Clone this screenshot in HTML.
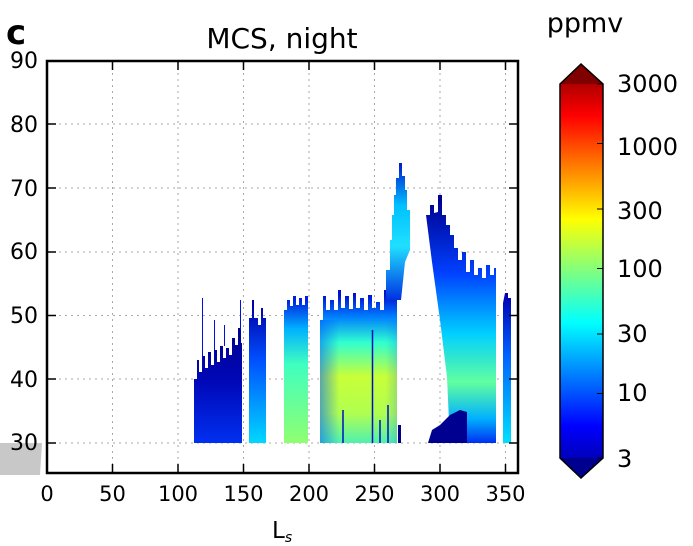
<!DOCTYPE html>
<html><head><meta charset="utf-8"><style>
body{margin:0;background:#fff;width:693px;height:546px;overflow:hidden;position:relative}
svg{position:absolute;left:0;top:0}
</style></head><body>
<svg width="693" height="546" xmlns="http://www.w3.org/2000/svg" font-family="DejaVu Sans, Liberation Sans, sans-serif">
<defs>
<linearGradient id="jet" x1="0" y1="1" x2="0" y2="0">
<stop offset="0" stop-color="#00008f"/>
<stop offset="0.125" stop-color="#0000ff"/>
<stop offset="0.375" stop-color="#00ffff"/>
<stop offset="0.625" stop-color="#ffff00"/>
<stop offset="0.875" stop-color="#ff0000"/>
<stop offset="1" stop-color="#800000"/>
</linearGradient>
<linearGradient id="g1" gradientUnits="userSpaceOnUse" x1="0" y1="320" x2="0" y2="443">
<stop offset="0" stop-color="#000088"/><stop offset="0.5" stop-color="#0008b8"/><stop offset="1" stop-color="#0030f0"/>
</linearGradient>
<linearGradient id="g2" gradientUnits="userSpaceOnUse" x1="0" y1="305" x2="0" y2="443">
<stop offset="0" stop-color="#0000a8"/><stop offset="0.4" stop-color="#0050ff"/><stop offset="1" stop-color="#00d8ff"/>
</linearGradient>
<linearGradient id="g3" gradientUnits="userSpaceOnUse" x1="0" y1="300" x2="0" y2="443">
<stop offset="0" stop-color="#0020e0"/><stop offset="0.2" stop-color="#00b0ff"/><stop offset="0.45" stop-color="#40ffc0"/><stop offset="1" stop-color="#90ff70"/>
</linearGradient>
<linearGradient id="g4" gradientUnits="userSpaceOnUse" x1="0" y1="295" x2="0" y2="443">
<stop offset="0" stop-color="#0010d0"/><stop offset="0.15" stop-color="#0080ff"/><stop offset="0.32" stop-color="#30ffd0"/><stop offset="0.55" stop-color="#c8ff38"/><stop offset="0.8" stop-color="#b0ff50"/><stop offset="1" stop-color="#50f0b0"/>
</linearGradient>
<linearGradient id="g4h" gradientUnits="userSpaceOnUse" x1="320" y1="0" x2="397" y2="0">
<stop offset="0" stop-color="#0060ff" stop-opacity="0.55"/><stop offset="0.25" stop-color="#0060ff" stop-opacity="0"/><stop offset="0.85" stop-color="#0060ff" stop-opacity="0"/><stop offset="1" stop-color="#0060ff" stop-opacity="0.2"/>
</linearGradient>
<linearGradient id="g5" gradientUnits="userSpaceOnUse" x1="0" y1="165" x2="0" y2="300">
<stop offset="0" stop-color="#0020d0"/><stop offset="0.3" stop-color="#00c0ff"/><stop offset="0.6" stop-color="#20e0ff"/><stop offset="1" stop-color="#0030e0"/>
</linearGradient>
<linearGradient id="g6" gradientUnits="userSpaceOnUse" x1="0" y1="200" x2="0" y2="443">
<stop offset="0" stop-color="#000090"/><stop offset="0.3" stop-color="#0040ff"/><stop offset="0.55" stop-color="#00d0ff"/><stop offset="0.75" stop-color="#60ffa0"/><stop offset="0.9" stop-color="#00b0ff"/><stop offset="1" stop-color="#0030f0"/>
</linearGradient>
<linearGradient id="g7" gradientUnits="userSpaceOnUse" x1="0" y1="295" x2="0" y2="443">
<stop offset="0" stop-color="#0000b0"/><stop offset="0.4" stop-color="#0060ff"/><stop offset="1" stop-color="#00e0ff"/>
</linearGradient>
</defs>
<polygon points="0,443 42,443 40,475 0,475" fill="#c8c8c8"/>
<g stroke="#aaa" stroke-width="1" stroke-dasharray="2,4">
<line x1="112.5" y1="61" x2="112.5" y2="473"/><line x1="178" y1="61" x2="178" y2="473"/><line x1="243.5" y1="61" x2="243.5" y2="473"/><line x1="309" y1="61" x2="309" y2="473"/><line x1="374.5" y1="61" x2="374.5" y2="473"/><line x1="440" y1="61" x2="440" y2="473"/><line x1="505.5" y1="61" x2="505.5" y2="473"/>
<line x1="47" y1="124" x2="518" y2="124"/><line x1="47" y1="188" x2="518" y2="188"/><line x1="47" y1="252" x2="518" y2="252"/><line x1="47" y1="315.5" x2="518" y2="315.5"/><line x1="47" y1="379" x2="518" y2="379"/><line x1="47" y1="443" x2="518" y2="443"/>
</g>
<polygon fill="url(#g1)" points="194,443 194,379 197,379 197,360 199,360 199,372 202,372 202,356 205,356 205,368 208,368 208,352 211,352 211,365 214,365 214,350 217,350 217,362 220,362 220,346 223,346 223,358 226,358 226,348 229,348 229,355 232,355 232,338 235,338 235,345 238,345 238,328 241,328 241,343 242,343 242,443"/>
<g stroke="#0010e0" stroke-width="1"><path d="M202.5,356V298M214.5,350V320M224.5,346V325M240.5,330V300"/></g>
<polygon fill="url(#g2)" points="249,443 249,318 252,318 252,300 254,300 254,318 258,318 258,325 261,325 261,308 263,308 263,318 266,318 266,443"/>
<polygon fill="url(#g3)" points="284,443 284,310 287,310 287,300 290,300 290,306 293,306 293,296 296,296 296,305 299,305 299,298 302,298 302,305 305,305 305,296 308,296 308,443"/>
<polygon fill="url(#g4)" points="320,443 320,320 323,320 323,296 326,296 326,310 330,310 330,300 334,300 334,310 338,310 338,290 341,290 341,308 345,308 345,296 349,296 349,309 353,309 353,293 356,293 356,308 360,308 360,298 364,298 364,310 368,310 368,295 372,295 372,308 376,308 376,302 380,302 380,310 384,310 384,290 388,290 388,270 392,270 392,300 397,300 397,443"/>
<rect x="320" y="320" width="77" height="123" fill="url(#g4h)"/>
<g stroke="#0010c0" stroke-width="1.5"><path d="M343,443V410M372.5,443V330M380,443V420M388,443V405"/></g>
<polygon fill="url(#g5)" points="386,300 386,270 390,270 390,240 392,240 392,215 394,215 394,195 396,195 396,178 399,178 399,163 402,163 402,176 405,176 405,190 407,190 407,210 410,210 410,250 405,262 401,300"/>
<polygon fill="url(#g6)" points="450,443 447,377 440,320 432,262 426,215 430,215 430,205 434,205 434,213 438,212 438,195 442,195 442,215 446,215 446,225 450,225 450,235 454,235 454,248 458,248 458,260 462,260 462,252 466,252 466,272 470,272 470,260 474,260 474,275 478,275 478,268 482,268 482,278 486,278 486,265 490,265 490,275 494,275 494,268 496,268 496,443"/>
<polygon fill="#000090" points="428,443 432,430 440,425 450,415 460,410 467,412 467,443"/>
<polygon fill="#000080" points="398,443 398,425 401,425 401,443"/>
<polygon fill="url(#g7)" points="503,443 503,303 505,293 508,293 508,298 511,298 511,443"/>
<rect x="47" y="61" width="471" height="412" fill="none" stroke="#000" stroke-width="2.5"/>
<g stroke="#000" stroke-width="1.5">
<path d="M112.5,473v-9M178,473v-9M243.5,473v-9M309,473v-9M374.5,473v-9M440,473v-9M505.5,473v-9"/>
<path d="M112.5,61v9M178,61v9M243.5,61v9M309,61v9M374.5,61v9M440,61v9M505.5,61v9"/>
<path d="M47,124h9M47,188h9M47,252h9M47,315.5h9M47,379h9M47,443h9"/>
<path d="M518,124h-9M518,188h-9M518,252h-9M518,315.5h-9M518,379h-9M518,443h-9"/>
</g>
<g font-size="21" fill="#000" text-anchor="middle">
<text x="47" y="501">0</text><text x="112.5" y="501">50</text><text x="178" y="501">100</text><text x="243.5" y="501">150</text><text x="309" y="501">200</text><text x="374.5" y="501">250</text><text x="440" y="501">300</text><text x="505.5" y="501">350</text>
</g>
<g font-size="22" fill="#000" text-anchor="end">
<text x="38" y="68">90</text><text x="38" y="132">80</text><text x="38" y="196">70</text><text x="38" y="259">60</text><text x="38" y="323">50</text><text x="38" y="387">40</text><text x="38" y="450">30</text>
</g>
<text x="272" y="538" font-size="23">L<tspan font-size="14" font-style="italic" dy="4">s</tspan></text>
<text x="282" y="48" font-size="28" text-anchor="middle">MCS, night</text>
<text x="6" y="44" font-size="34" font-weight="bold">c</text>
<text x="585" y="32" font-size="27" text-anchor="middle">ppmv</text>
<polygon points="560,84 581,64 603,84 603,458 581,478 560,458" fill="url(#jet)"/>
<polygon points="560,84 581,64 603,84" fill="#800000"/>
<polygon points="560,458 581,478 603,458" fill="#00008f"/>
<polygon points="560,84 581,64 603,84 603,458 581,478 560,458" fill="none" stroke="#000" stroke-width="1.5"/>
<g stroke="#000" stroke-width="1"><path d="M597,84h6M597,143.5h6M597,209h6M597,268.5h6M597,334h6M597,393.5h6M597,458h6"/></g>
<g font-size="24" fill="#000">
<text x="617" y="92">3000</text><text x="617" y="155">1000</text><text x="617" y="219">300</text><text x="617" y="277">100</text><text x="617" y="342">30</text><text x="617" y="401">10</text><text x="617" y="467">3</text>
</g>
</svg>
</body></html>
